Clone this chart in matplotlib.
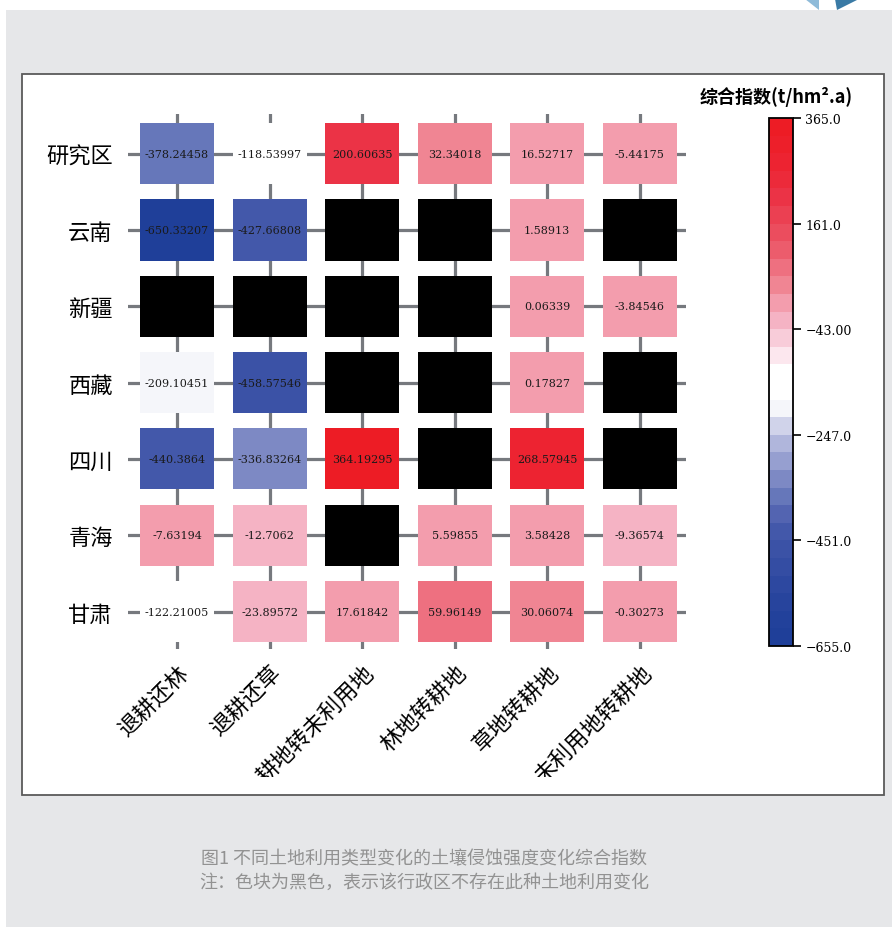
import numpy as np
import matplotlib
matplotlib.use("Agg")
import matplotlib.pyplot as plt
from matplotlib.patches import Rectangle, Polygon
from matplotlib.colors import ListedColormap, BoundaryNorm
from matplotlib.cm import ScalarMappable
from matplotlib.transforms import ScaledTranslation

plt.rcParams['font.family'] = ['Noto Sans CJK SC', 'DejaVu Sans']

# data
regions = ["研究区", "云南", "新疆", "西藏", "四川", "青海", "甘肃"]
changes = ["退耕还林", "退耕还草", "耕地转未利用地", "林地转耕地", "草地转耕地", "未利用地转耕地"]
nan = np.nan
values = [
    [-378.24458, -118.53997, 200.60635, 32.34018, 16.52717, -5.44175],
    [-650.33207, -427.66808, nan, nan, 1.58913, nan],
    [nan, nan, nan, nan, 0.06339, -3.84546],
    [-209.10451, -458.57546, nan, nan, 0.17827, nan],
    [-440.3864, -336.83264, 364.19295, nan, 268.57945, nan],
    [-7.63194, -12.7062, nan, 5.59855, 3.58428, -9.36574],
    [-122.21005, -23.89572, 17.61842, 59.96149, 30.06074, -0.30273],
]
vmin, vmax, nbins = -655, 365, 30
cbar_ticks = [-655, -451, -247, -43, 161, 365]
cbar_ticklabels = ["\u2212655.0", "\u2212451.0", "\u2212247.0", "\u221243.00", "161.0", "365.0"]

# discrete colours, bottom bin to top bin
bin_colors = [
    "#1f3f99", "#22419b", "#27449d", "#2d48a0", "#344da3", "#3b52a6",
    "#4358aa", "#5364b1", "#6677ba", "#7d89c4", "#969fd0", "#b0b6dc",
    "#d0d3ea", "#f5f6fa", "#ffffff", "#ffffff", "#fce7ee", "#f8ccd9",
    "#f5b3c4", "#f39dad", "#f08593", "#ee7080", "#ec5c6c", "#eb4d5e",
    "#eb4052", "#eb3346", "#ec2a3a", "#ed2331", "#ed1f2a", "#ed1c25",
]
cmap = ListedColormap(bin_colors)
norm = BoundaryNorm(np.linspace(vmin, vmax, nbins + 1), nbins)

W, H = 892, 928
fig = plt.figure(figsize=(W / 100, H / 100), dpi=100)
fig.patch.set_facecolor("white")


def fpx(x, y):
    return (x / W, 1 - y / H)


# page background + decoration
fig.patches.append(Rectangle(fpx(6, H), 1, 1 - 11 / H, transform=fig.transFigure,
                             facecolor="#e6e7e9", edgecolor="none", zorder=-3))
fig.patches.append(Polygon([fpx(805, 0), fpx(819, 0), fpx(819, 11)], closed=True,
                           transform=fig.transFigure, facecolor="#8fbbd9", edgecolor="none", zorder=-3))
fig.patches.append(Polygon([fpx(835, 0), fpx(859, 0), fpx(837, 11)], closed=True,
                           transform=fig.transFigure, facecolor="#3a7aa5", edgecolor="none", zorder=-3))
panel = Rectangle(fpx(22, 796), 862 / W, 721 / H, transform=fig.transFigure,
                  facecolor="white", edgecolor="#5a5a5a", lw=1.3, zorder=-2)
fig.patches.append(panel)
# the original chart image was cut off a little above the panel border
label_clip = Rectangle(fpx(22, 778), 862 / W, 703 / H, transform=fig.transFigure)

ax = fig.add_axes([128 / W, 1 - 650 / H, 558 / W, 535 / H])
ax.set_facecolor("white")

vals = np.array(values, dtype=float)
for r in range(len(regions)):
    row = vals[r]
    cols = [("black" if np.isnan(v) else cmap(norm(v))) for v in row]
    ax.bar(np.arange(len(changes)), 0.8, width=0.8, bottom=r - 0.4, color=cols,
           edgecolor="none", zorder=2)
    for c, v in enumerate(row):
        if not np.isnan(v):
            ax.text(c, r, f"{v}", ha="center", va="center", fontsize=8,
                    family="DejaVu Serif", color="#1a1a1a", zorder=3)

ax.set_xlim(-0.53, 5.5)
ax.set_ylim(6.49, -0.52)
ax.set_xticks(range(len(changes)))
ax.set_yticks(range(len(regions)))
ax.set_yticklabels(regions, fontsize=16)
ax.set_xticklabels(changes, fontsize=16, rotation=45, ha="right", va="center",
                   rotation_mode="anchor")
ax.tick_params(axis="both", length=0)
ax.tick_params(axis="y", pad=11)
ax.tick_params(axis="x", pad=14)
ax.grid(True, color="#76797e", lw=2.3)
ax.set_axisbelow(True)
for s in ax.spines.values():
    s.set_visible(False)
shift = ScaledTranslation(8 / 100, 0, fig.dpi_scale_trans)
for lbl in ax.get_xticklabels():
    lbl.set_transform(lbl.get_transform() + shift)
    lbl.set_clip_path(label_clip)
    lbl.set_clip_on(True)

# colorbar
cax = fig.add_axes([769 / W, 1 - 647 / H, 24 / W, 528 / H])
cb = fig.colorbar(ScalarMappable(norm=norm, cmap=cmap), cax=cax, ticks=cbar_ticks)
cb.minorticks_off()
cb.set_ticklabels(cbar_ticklabels)
cb.outline.set_linewidth(1.3)
cb.outline.set_edgecolor("black")
cax.tick_params(length=6, width=1.2, pad=3, labelsize=9)
for t in cax.get_yticklabels():
    t.set_family("DejaVu Serif")
fig.text(776 / W, 1 - 97 / H, "综合指数(t/hm².a)", ha="center", va="center",
         fontsize=13, fontweight="bold")

# caption
fig.text(424 / W, 1 - 859 / H, "图1 不同土地利用类型变化的土壤侵蚀强度变化综合指数",
         ha="center", va="center", fontsize=13, color="#929292")
fig.text(424 / W, 1 - 883 / H, "注：色块为黑色，表示该行政区不存在此种土地利用变化",
         ha="center", va="center", fontsize=13, color="#929292")

fig.savefig("out.png", dpi=100)
